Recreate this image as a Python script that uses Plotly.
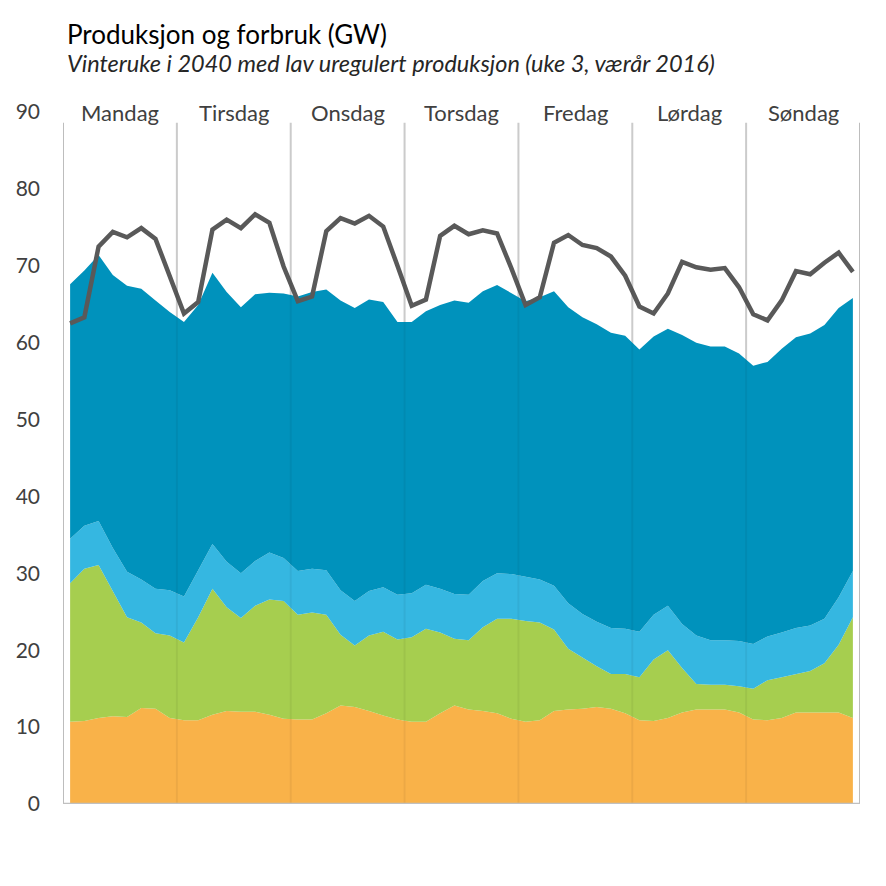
import plotly.graph_objects as go

days = ["Mandag", "Tirsdag", "Onsdag", "Torsdag", "Fredag", "Lørdag", "Søndag"]
y_ticks = [0, 10, 20, 30, 40, 50, 60, 70, 80, 90]

# 3-hour steps, 8 per day, 56 points (GW)
orange = [10.7, 10.8, 11.2, 11.4, 11.3, 12.5, 12.4, 11.2, 10.9, 10.9, 11.6, 12.1, 12.0, 12.0,
          11.6, 11.1, 11.0, 11.0, 11.8, 12.8, 12.6, 12.1, 11.5, 11.0, 10.7, 10.7, 11.8, 12.8,
          12.3, 12.1, 11.8, 11.1, 10.7, 10.9, 12.1, 12.3, 12.4, 12.6, 12.4, 11.8, 10.9, 10.8,
          11.2, 11.9, 12.3, 12.3, 12.3, 11.9, 11.0, 10.9, 11.2, 11.9, 11.9, 11.9, 11.9, 11.2]
green = [18.0, 19.8, 19.9, 16.3, 13.0, 11.1, 9.8, 10.7, 10.1, 13.4, 16.4, 13.5, 12.2, 13.8,
         15.0, 15.3, 13.6, 13.9, 12.8, 9.2, 8.0, 9.8, 10.9, 10.4, 11.0, 12.1, 10.5, 8.7,
         9.0, 10.9, 12.3, 13.0, 13.1, 12.7, 10.6, 7.9, 6.6, 5.3, 4.5, 5.1, 5.6, 8.0,
         8.8, 5.8, 3.3, 3.2, 3.2, 3.4, 4.0, 5.2, 5.3, 5.0, 5.4, 6.4, 8.8, 13.1]
light_blue = [5.8, 5.6, 5.7, 5.6, 5.9, 5.6, 5.8, 5.9, 6.0, 6.2, 5.8, 5.9, 5.8, 5.8,
              6.1, 5.6, 5.7, 5.7, 5.8, 5.8, 5.8, 5.8, 5.8, 5.8, 5.7, 5.7, 5.7, 5.8,
              5.9, 6.0, 5.9, 5.8, 5.8, 5.6, 5.7, 5.9, 5.7, 5.8, 6.0, 5.9, 5.9, 5.8,
              5.8, 5.7, 6.3, 5.8, 5.8, 5.9, 5.8, 5.7, 5.8, 6.0, 5.9, 5.8, 6.2, 6.0]
dark_blue = [33.1, 33.2, 34.6, 35.5, 37.2, 37.8, 37.5, 36.2, 35.7, 34.4, 35.3, 35.1, 34.6, 34.7,
             33.8, 34.4, 35.7, 36.0, 36.5, 37.7, 38.1, 37.9, 37.1, 35.5, 35.3, 35.6, 36.9, 38.2,
             38.0, 37.7, 37.5, 36.5, 35.8, 36.7, 38.3, 38.5, 38.6, 38.7, 38.4, 38.1, 36.7, 36.2,
             36.0, 37.6, 38.1, 38.2, 38.2, 37.4, 36.2, 35.7, 36.9, 37.8, 38.0, 38.2, 37.6, 35.5]
forbruk = [62.5, 63.3, 72.5, 74.4, 73.7, 74.9, 73.5, 68.7, 63.8, 65.3, 74.7, 76.0, 74.9, 76.7,
           75.6, 69.9, 65.4, 66.0, 74.5, 76.2, 75.5, 76.5, 75.1, 70.0, 64.8, 65.6, 73.9, 75.2,
           74.1, 74.6, 74.2, 69.7, 64.9, 65.9, 73.0, 74.0, 72.7, 72.3, 71.2, 68.7, 64.7, 63.8,
           66.4, 70.5, 69.8, 69.5, 69.7, 67.2, 63.7, 62.9, 65.5, 69.3, 68.9, 70.4, 71.7, 69.2]

steps_per_day = 8
n = len(forbruk)
x = list(range(n))

FONT = "Lato, 'Open Sans', sans-serif"
TXT = "#404040"

fig = go.Figure()
series = [
    (orange, "#F9B249"),
    (green, "#A6CE4F"),
    (light_blue, "#35B7E1"),
    (dark_blue, "#0092BC"),
]
for vals, col in series:
    fig.add_trace(go.Scatter(
        x=x, y=vals, mode="lines", stackgroup="prod",
        line=dict(width=0, color=col), fillcolor=col, showlegend=False,
        hoverinfo="skip"))

fig.add_trace(go.Scatter(
    x=x, y=forbruk, mode="lines", line=dict(color="#595959", width=4.5),
    showlegend=False))

shapes = []
for k in range(len(days) + 1):
    xb = -0.5 + k * steps_per_day
    edge = k in (0, len(days))
    shapes.append(dict(type="line", xref="x", yref="y", x0=xb, x1=xb, y0=0, y1=88.6,
                       line=dict(color="#C8C8C8" if edge else "#D6D6D6", width=2),
                       layer="below"))
    shapes.append(dict(type="line", xref="x", yref="y", x0=xb, x1=xb, y0=0, y1=88.6,
                       line=dict(color="rgba(0,0,0,0.05)", width=2), layer="above"))
shapes.append(dict(type="line", xref="x", yref="y", x0=-0.5, x1=n - 0.5, y0=0, y1=0,
                   line=dict(color="#C0C0C0", width=2.5), layer="above"))

annotations = [
    dict(text="Produksjon og forbruk (GW)", xref="paper", yref="paper", x=0.003, y=1.113,
         xanchor="left", yanchor="middle", showarrow=False,
         font=dict(family=FONT, size=26, color="#000000")),
    dict(text="<i>Vinteruke i 2040 med lav uregulert produksjon (uke 3, værår 2016)</i>",
         xref="paper", yref="paper", x=0.003, y=1.071, xanchor="left", yanchor="middle",
         showarrow=False, font=dict(family=FONT, size=23.5, color="#262626")),
]
for k, d in enumerate(days):
    annotations.append(dict(text=d, xref="x", yref="y", x=k * steps_per_day + 3.5, y=89.9,
                            xanchor="center", yanchor="middle", showarrow=False,
                            font=dict(family=FONT, size=22, color=TXT)))

fig.update_layout(
    width=886, height=886,
    margin=dict(l=63, r=26, t=112, b=82),
    paper_bgcolor="white", plot_bgcolor="white",
    shapes=shapes, annotations=annotations,
    xaxis=dict(range=[-0.5, n - 0.5], showticklabels=False, showgrid=False,
               zeroline=False, showline=False, ticks=""),
    yaxis=dict(range=[0, 90], tickvals=y_ticks, showgrid=False, zeroline=False,
               showline=False, ticks="", ticklabelstandoff=22,
               tickfont=dict(family=FONT, size=21, color=TXT)),
)

fig.write_html("out.html")
